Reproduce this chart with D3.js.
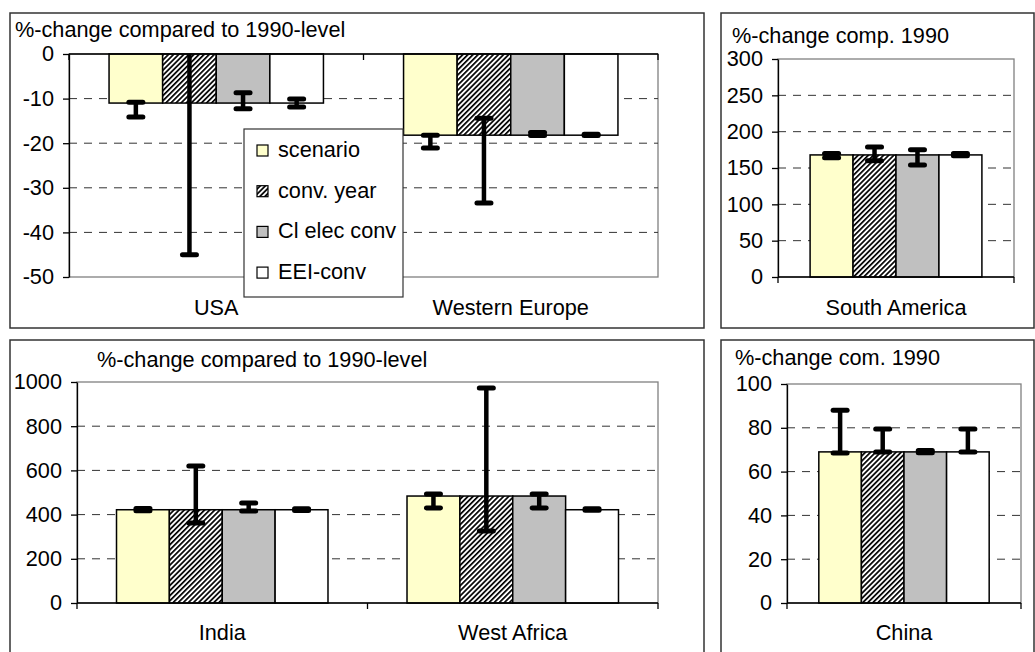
<!DOCTYPE html>
<html>
<head>
<meta charset="utf-8">
<script src="https://cdn.jsdelivr.net/npm/d3@7"></script>
<style>
  body { margin: 0; background: white; }
  svg text { font-family: "Liberation Sans", Arial, sans-serif; font-size: 21.7px; fill: #000; }
</style>
</head>
<body>
<svg id="chart" width="1035" height="652"></svg>
<script>
// series shared by all four panels
var series = ["scenario", "conv. year", "Cl elec conv", "EEI-conv"]
var fills = ["#ffffcc", "url(#hatch)", "#c0c0c0", "#ffffff"]

// top left: USA / Western Europe
var oecdCats = ["USA", "Western Europe"]
var oecdValues = [[-11, -11, -11, -11], [-18.2, -18.2, -18.2, -18.2]]
var oecdHigh = [[-10.8, 1, -8.7, -10.1], [-18.2, -14.4, -17.6, -18.0]]
var oecdLow = [[-14.1, -45, -12.3, -11.9], [-21.1, -33.4, -18.3, -18.3]]
var oecdTicks = [0, -10, -20, -30, -40, -50]

// top right: South America
var saCats = ["South America"]
var saValues = [[168, 168, 168, 168]]
var saHigh = [[170, 179, 175, 170]]
var saLow = [[164, 160, 154, 167]]
var saTicks = [0, 50, 100, 150, 200, 250, 300]

// bottom left: India / West Africa
var devCats = ["India", "West Africa"]
var devValues = [[422, 422, 422, 422], [484, 484, 484, 422]]
var devHigh = [[428, 620, 452, 427], [493, 973, 493, 427]]
var devLow = [[417, 362, 416, 419], [430, 326, 430, 420]]
var devTicks = [0, 200, 400, 600, 800, 1000]

// bottom right: China
var chinaCats = ["China"]
var chinaValues = [[69, 69, 69, 69]]
var chinaHigh = [[88, 79.4, 69.6, 79.4]]
var chinaLow = [[68.5, 69, 68.6, 69]]
var chinaTicks = [0, 20, 40, 60, 80, 100]

var svg = d3.select("#chart")
var defs = svg.append("defs")

var pat = defs.append("pattern")
    .attr("id", "hatch")
    .attr("patternUnits", "userSpaceOnUse")
    .attr("width", 3.6).attr("height", 3.6)
    .attr("patternTransform", "rotate(45)")
pat.append("rect").attr("width", 3.6).attr("height", 3.6).attr("fill", "white")
pat.append("rect").attr("width", 1.7).attr("height", 3.6).attr("fill", "black")

var panels = [
    {id: "p1", box: [10, 13, 694, 315], plot: [69, 658, 54, 277], cats: oecdCats, values: oecdValues,
     high: oecdHigh, low: oecdLow, ticks: oecdTicks, domain: [-50, 0],
     title: "%-change compared to 1990-level", tx: 15, ty: 37, labelY: 315},
    {id: "p2", box: [721, 13, 313, 315], plot: [778, 1014, 59, 277], cats: saCats, values: saValues,
     high: saHigh, low: saLow, ticks: saTicks, domain: [0, 300],
     title: "%-change comp. 1990", tx: 732, ty: 43, labelY: 315},
    {id: "p3", box: [10, 340, 694, 330], plot: [77, 658, 382, 603], cats: devCats, values: devValues,
     high: devHigh, low: devLow, ticks: devTicks, domain: [0, 1000],
     title: "%-change compared to 1990-level", tx: 97, ty: 367, labelY: 640},
    {id: "p4", box: [721, 340, 313, 330], plot: [787, 1021, 384, 603], cats: chinaCats, values: chinaValues,
     high: chinaHigh, low: chinaLow, ticks: chinaTicks, domain: [0, 100],
     title: "%-change com. 1990", tx: 735, ty: 365, labelY: 640}
]

panels.forEach(drawPanel)
drawLegend()

function drawPanel(p) {
    var g = svg.append("g")
    var x0 = p.plot[0], x1 = p.plot[1], yt = p.plot[2], yb = p.plot[3]

    // outer frame
    g.append("rect")
        .attr("x", p.box[0]).attr("y", p.box[1])
        .attr("width", p.box[2]).attr("height", p.box[3])
        .attr("fill", "white").attr("stroke", "#333").attr("stroke-width", 1.5)

    var y = d3.scaleLinear().domain(p.domain).range([yb, yt])
    var x = d3.scaleBand().domain(p.cats).range([x0, x1])
    var groupW = x.bandwidth() * 0.728
    var xs = d3.scaleBand().domain(series)
        .range([(x.bandwidth() - groupW) / 2, (x.bandwidth() + groupW) / 2])

    // plot area border (grey)
    g.append("rect")
        .attr("x", x0).attr("y", yt).attr("width", x1 - x0).attr("height", yb - yt)
        .attr("fill", "none").attr("stroke", "#808080").attr("stroke-width", 1.3)

    // dashed gridlines
    var inner = p.ticks.filter(function(t){ return t != p.domain[0] && t != p.domain[1] && t != 0 })
    g.selectAll(".grid").data(inner).enter().append("line")
        .attr("x1", x0).attr("x2", x1)
        .attr("y1", function(d){ return y(d) }).attr("y2", function(d){ return y(d) })
        .attr("stroke", "#333").attr("stroke-width", 1).attr("stroke-dasharray", "8,7")

    // bars
    p.cats.forEach(function(c, ci) {
        var cg = g.append("g").attr("transform", "translate(" + x(c) + ",0)")
        cg.selectAll("rect").data(p.values[ci]).enter().append("rect")
            .attr("x", function(d, i){ return xs(series[i]) })
            .attr("width", xs.bandwidth())
            .attr("y", function(d){ return Math.min(y(d), y(0)) })
            .attr("height", function(d){ return Math.abs(y(d) - y(0)) })
            .attr("fill", function(d, i){ return fills[i] })
            .attr("stroke", "black").attr("stroke-width", 1.5)
    })

    // error bars, clipped to the plot area
    defs.append("clipPath").attr("id", "clip-" + p.id)
        .append("rect").attr("x", x0).attr("y", yt).attr("width", x1 - x0).attr("height", yb - yt)
    var eg = g.append("g").attr("clip-path", "url(#clip-" + p.id + ")")
    p.cats.forEach(function(c, ci) {
        series.forEach(function(s, si) {
            var cx = x(c) + xs(s) + xs.bandwidth() / 2
            var hi = y(p.high[ci][si]), lo = y(p.low[ci][si])
            eg.append("line")
                .attr("x1", cx).attr("x2", cx).attr("y1", hi).attr("y2", lo)
                .attr("stroke", "black").attr("stroke-width", 4.5)
            ;[hi, lo].forEach(function(yy) {
                eg.append("line")
                    .attr("x1", cx - 7).attr("x2", cx + 7).attr("y1", yy).attr("y2", yy)
                    .attr("stroke", "black").attr("stroke-width", 5).attr("stroke-linecap", "round")
            })
        })
    })

    // category axis at value 0
    var bounds = x.domain().map(function(c){ return x(c) }).concat([x1])
    g.append("line").attr("x1", x0).attr("x2", x1).attr("y1", y(0)).attr("y2", y(0))
        .attr("stroke", "black").attr("stroke-width", 1.3)
    g.selectAll(".ctick").data(bounds).enter().append("line")
        .attr("x1", function(d){ return d }).attr("x2", function(d){ return d })
        .attr("y1", y(0)).attr("y2", y(0) + 6)
        .attr("stroke", "black").attr("stroke-width", 1.3)

    g.selectAll(".clabel").data(p.cats).enter().append("text")
        .attr("x", function(d){ return x(d) + x.bandwidth() / 2 })
        .attr("y", p.labelY)
        .attr("text-anchor", "middle")
        .text(function(d){ return d })

    // value axis (plain hyphen minus, no thousands comma)
    var ax = g.append("g").attr("transform", "translate(" + x0 + ",0)")
        .call(d3.axisLeft(y).tickValues(p.ticks).tickSize(6).tickSizeOuter(0).tickPadding(9)
            .tickFormat(function(d){ return String(d) }))
    ax.selectAll("text").style("font-size", "21.7px").attr("fill", "#000")
    ax.selectAll("line").attr("stroke", "black").attr("stroke-width", 1.3)
    ax.select(".domain").attr("stroke", "black").attr("stroke-width", 1.3)

    g.append("text").attr("x", p.tx).attr("y", p.ty).text(p.title)
}

function drawLegend() {
    var lg = svg.append("g").attr("transform", "translate(244,129)")
    lg.append("rect").attr("width", 159).attr("height", 168)
        .attr("fill", "white").attr("stroke", "#333").attr("stroke-width", 1.2)
    var item = lg.selectAll(".item").data(series).enter().append("g")
        .attr("transform", function(d, i){ return "translate(0," + (21 + i * 40.7) + ")" })
    item.append("rect").attr("x", 13).attr("y", -5).attr("width", 11).attr("height", 11)
        .attr("fill", function(d, i){ return fills[i] })
        .attr("stroke", "black").attr("stroke-width", 1.2)
    item.append("text").attr("x", 34).attr("y", 7).text(function(d){ return d })
}
</script>
</body>
</html>
